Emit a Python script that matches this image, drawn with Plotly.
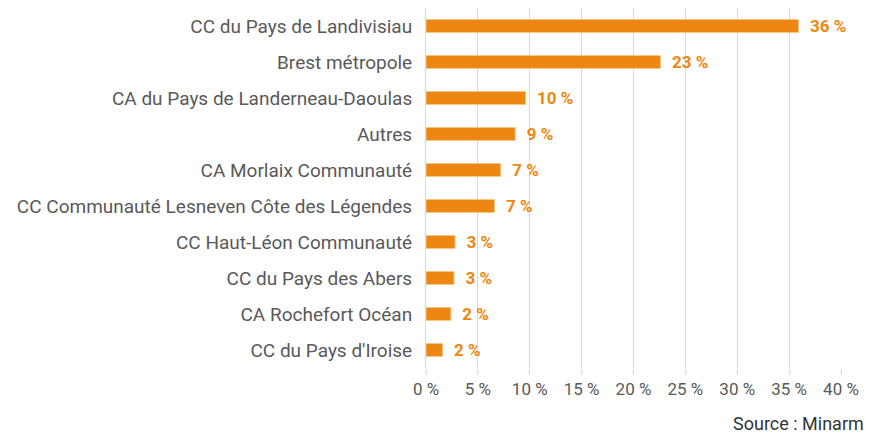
import plotly.graph_objects as go

categories = [
    "CC du Pays de Landivisiau",
    "Brest métropole",
    "CA du Pays de Landerneau-Daoulas",
    "Autres",
    "CA Morlaix Communauté",
    "CC Communauté Lesneven Côte des Légendes",
    "CC Haut-Léon Communauté",
    "CC du Pays des Abers",
    "CA Rochefort Océan",
    "CC du Pays d'Iroise",
]
values = [35.9, 22.6, 9.6, 8.6, 7.2, 6.6, 2.8, 2.7, 2.4, 1.6]
tick_vals = [0, 5, 10, 15, 20, 25, 30, 35, 40]
tick_text = [f"{v} %" for v in tick_vals]
labels = [f"\u00a0\u00a0{round(v)} %" for v in values]

ORANGE = "#EE8710"
GREY = "#595959"

fig = go.Figure()
fig.add_trace(go.Bar(
    x=values,
    y=categories,
    orientation="h",
    marker=dict(color=ORANGE, line=dict(color="#F5C58E", width=1)),
    text=labels,
    textposition="outside",
    constraintext="none",
    textfont=dict(family="Roboto", size=17, color=ORANGE, weight="bold"),
    cliponaxis=False,
    hoverinfo="skip",
))

fig.update_layout(
    width=869, height=436,
    margin=dict(l=426, r=28, t=8, b=68),
    paper_bgcolor="white", plot_bgcolor="white",
    bargap=0.64,
    showlegend=False,
    font=dict(family="Roboto", color=GREY),
)
fig.update_xaxes(
    range=[0, 40],
    tickvals=tick_vals, ticktext=tick_text,
    showgrid=True, gridcolor="#D9D9D9", gridwidth=1,
    ticks="outside", ticklen=6, tickcolor="#D9D9D9",
    tickfont=dict(family="Roboto", size=17, color=GREY),
    zeroline=False, showline=False,
)
fig.update_yaxes(
    autorange="reversed",
    showgrid=False,
    showline=True, linecolor="#D9D9D9", linewidth=1,
    ticks="outside", ticklen=9, tickcolor="rgba(0,0,0,0)",
    tickfont=dict(family="Roboto", size=19, color=GREY),
)
fig.add_annotation(
    text="Source : Minarm",
    xref="paper", yref="paper",
    x=1.0, y=0, yshift=-68, xshift=25,
    xanchor="right", yanchor="bottom",
    showarrow=False,
    font=dict(family="Roboto", size=18, color="#333333"),
)

fig.write_html("out.html", config={"displayModeBar": False},
               post_script="document.body.style.margin='0';")
